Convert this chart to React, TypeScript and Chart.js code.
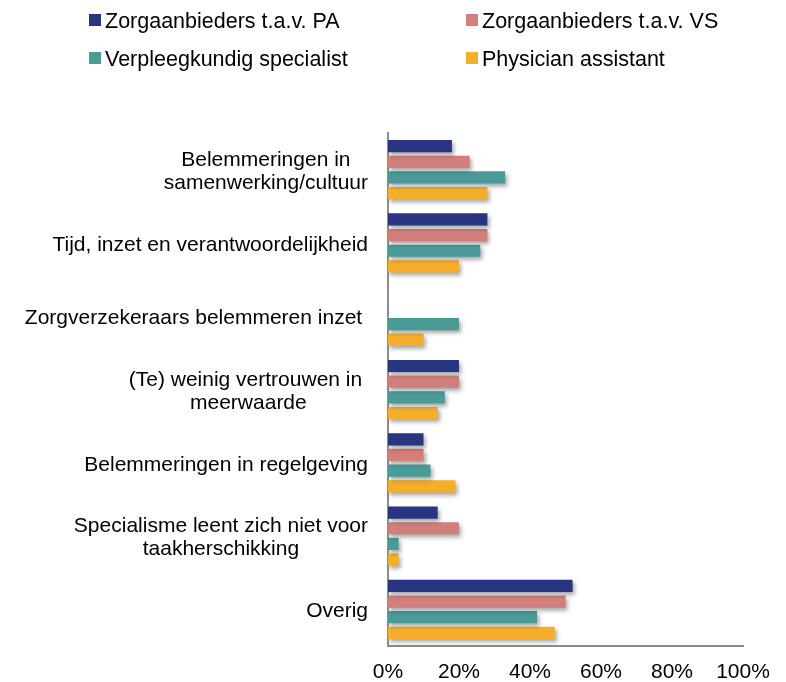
import React, { useEffect, useRef } from "react";
import { Chart, registerables } from "chart.js";

Chart.register(...registerables);

const categories: string[][] = [
  ["Belemmeringen in", "samenwerking/cultuur"],
  ["Tijd, inzet en verantwoordelijkheid"],
  ["Zorgverzekeraars belemmeren inzet "],
  ["(Te) weinig vertrouwen in ", "meerwaarde"],
  ["Belemmeringen in regelgeving"],
  ["Specialisme leent zich niet voor", "taakherschikking"],
  ["Overig"],
];

const seriesNames = [
  "Zorgaanbieders t.a.v. PA",
  "Zorgaanbieders t.a.v. VS",
  "Verpleegkundig specialist",
  "Physician assistant",
];

const valuesPA = [18, 28, 0, 20, 10, 14, 52];
const valuesVS = [23, 28, 0, 20, 10, 20, 50];
const valuesVSp = [33, 26, 20, 16, 12, 3, 42];
const valuesPhys = [28, 20, 10, 14, 19, 3, 47];

const seriesColors = ["#283580", "#D27E7A", "#4A9A98", "#F4AE2B"];

const xTickValues = [0, 20, 40, 60, 80, 100];

const FONT = '"Liberation Sans", Arial, sans-serif';
const FONT_SIZE = 21;
const LEGEND_FONT_SIZE = 21.5;

const shadowPlugin = {
  id: "barShadow",
  beforeDatasetsDraw(chart: any) {
    const ctx = chart.ctx;
    ctx.save();
    ctx.shadowColor = "rgba(0,0,0,0.35)";
    ctx.shadowBlur = 4;
    ctx.shadowOffsetX = 2;
    ctx.shadowOffsetY = 3;
  },
  afterDatasetsDraw(chart: any) {
    chart.ctx.restore();
  },
};

const categoryLabelPlugin = {
  id: "categoryLabels",
  afterDraw(chart: any) {
    const ctx = chart.ctx;
    const yScale = chart.scales.y;
    const rightEdge = chart.chartArea.left - 20;
    const lineH = 23;
    ctx.save();
    ctx.font = `${FONT_SIZE}px ${FONT}`;
    ctx.fillStyle = "#000000";
    ctx.textAlign = "center";
    ctx.textBaseline = "middle";
    categories.forEach((lines, i) => {
      const cy = yScale.getPixelForValue(i) + 2;
      const widest = Math.max(...lines.map((l) => ctx.measureText(l).width));
      const cx = rightEdge - widest / 2;
      lines.forEach((line, j) => {
        ctx.fillText(line, cx, cy + (j - (lines.length - 1) / 2) * lineH);
      });
    });
    ctx.restore();
  },
};

const legendPlugin = {
  id: "gridLegend",
  afterDraw(chart: any) {
    const ctx = chart.ctx;
    const cols = [81, 458];
    const rows = [6, 44];
    ctx.save();
    ctx.font = `${LEGEND_FONT_SIZE}px ${FONT}`;
    ctx.textAlign = "left";
    ctx.textBaseline = "alphabetic";
    chart.data.datasets.forEach((ds: any, i: number) => {
      const x = cols[i % 2];
      const y = rows[Math.floor(i / 2)];
      ctx.fillStyle = ds.backgroundColor;
      ctx.fillRect(x, y, 12, 12);
      ctx.fillStyle = "#000000";
      ctx.fillText(ds.label, x + 16, y + 14);
    });
    ctx.restore();
  },
};

export default function App() {
  const canvasRef = useRef<HTMLCanvasElement | null>(null);

  useEffect(() => {
    document.body.style.overflow = "hidden";
    const canvas = canvasRef.current;
    if (!canvas) return;
    const allValues = [valuesPA, valuesVS, valuesVSp, valuesPhys];
    const chart = new Chart(canvas, {
      type: "bar",
      data: {
        labels: categories.map((c) => c.join(" ")),
        datasets: allValues.map((vals, i) => ({
          label: seriesNames[i],
          data: vals,
          backgroundColor: seriesColors[i],
          borderWidth: 0,
          categoryPercentage: 0.855,
          barPercentage: 0.78,
        })),
      },
      options: {
        indexAxis: "y",
        responsive: false,
        animation: false,
        layout: { padding: { top: 125, right: 35, left: 0, bottom: 0 } },
        plugins: {
          legend: { display: false },
          tooltip: { enabled: false },
          title: { display: false },
        },
        scales: {
          x: {
            min: 0,
            max: 100,
            afterBuildTicks(scale: any) {
              scale.ticks = xTickValues.map((v) => ({ value: v }));
            },
            afterFit(scale: any) {
              scale.height = 36;
              scale.paddingLeft = 0;
              scale.paddingRight = 0;
            },
            grid: { display: false, drawTicks: false },
            border: { display: true, color: "#8C8C8C", width: 2 },
            ticks: {
              padding: 14,
              color: "#000000",
              font: { family: FONT, size: FONT_SIZE },
              callback: (v: any) => `${v}%`,
              maxRotation: 0,
            },
          },
          y: {
            grid: { display: false, drawTicks: false },
            border: { display: true, color: "#8C8C8C", width: 2 },
            ticks: { display: false },
            afterFit(scale: any) {
              scale.width = 380;
            },
          },
        },
      },
      plugins: [shadowPlugin, categoryLabelPlugin, legendPlugin],
    } as any);
    return () => chart.destroy();
  }, []);

  return (
    <div style={{ width: 770, height: 674 }}>
      <canvas ref={canvasRef} width={770} height={674} style={{ display: "block" }} />
    </div>
  );
}
